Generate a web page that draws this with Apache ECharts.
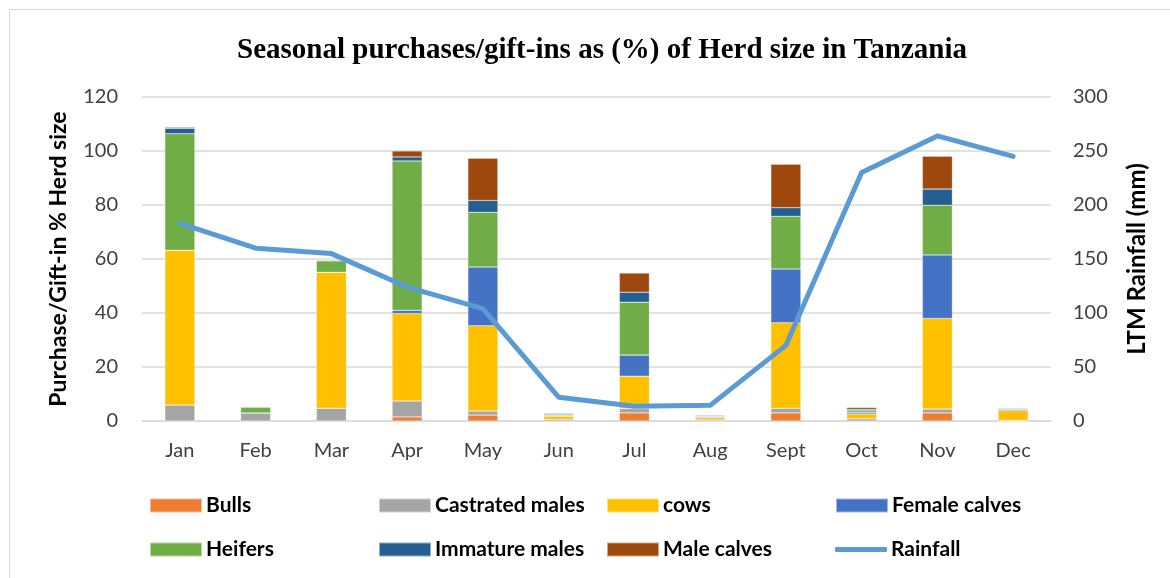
<!DOCTYPE html>
<html lang="en">
<head>
    <meta charset="UTF-8">
    <title>Seasonal purchases</title>
    <style>
        html, body {
            margin: 0;
            padding: 0;
            background: #fff;
        }

        #main {
            width: 1170px;
            height: 578px;
        }
    </style>
</head>
<body>
<div id="main"></div>
<script src="https://cdn.jsdelivr.net/npm/echarts@6/dist/echarts.min.js"></script>
<script>
    const months = ['Jan', 'Feb', 'Mar', 'Apr', 'May', 'Jun', 'Jul', 'Aug', 'Sept', 'Oct', 'Nov', 'Dec']
    const bulls = [0, 0, 0, 1.5, 2.2, 0, 3.0, 0, 3.0, 0, 3.0, 0]
    const castratedMales = [5.9, 3.0, 4.7, 5.9, 1.5, 0.6, 1.6, 0.4, 1.7, 0.8, 1.4, 0.2]
    const cows = [57.3, 0, 50.4, 32.4, 31.6, 1.2, 12.0, 0.8, 31.7, 1.8, 33.6, 3.6]
    const femaleCalves = [0, 0, 0, 1.2, 21.7, 0.2, 7.8, 0.3, 19.9, 0.6, 23.5, 0.4]
    const heifers = [43.2, 2.2, 4.2, 55.3, 20.3, 0.4, 19.6, 0.2, 19.5, 0.6, 18.4, 0.3]
    const immatureMales = [2.0, 0, 0.3, 1.5, 4.4, 0.3, 3.7, 0.4, 3.2, 0.5, 6.0, 0.3]
    const maleCalves = [0.4, 0, 0, 2.2, 15.6, 0.3, 7.1, 0.1, 16.1, 0.7, 12.2, 0.2]
    const rainfall = [183, 160, 155, 124, 104, 22, 13.6, 14.5, 70, 230, 264, 245]
    const leftTicks = [0, 120, 20]
    const rightTicks = [0, 300, 50]

    const font = 'Lato, "Noto Sans", sans-serif'

    function barSeries(name, data, color) {
        return {
            name: name,
            type: 'bar',
            stack: 'herd',
            barWidth: 30,
            data: data,
            itemStyle: {color: color, borderColor: 'rgba(255,255,255,0.5)', borderWidth: 0.5}
        }
    }

    // one legend per entry so the columns line up like the original
    function legendItem(name, left, top, isLine) {
        return {
            data: [{name: name, icon: isLine ? 'roundRect' : 'rect'}],
            left: left, top: top,
            itemWidth: 52, itemHeight: isLine ? 5 : 14, itemGap: 0,
            textStyle: {fontFamily: font, fontWeight: 'bold', fontSize: 21, color: '#000', padding: [0, 0, 0, -1]}
        }
    }

    const cols = [144, 373, 601, 830]
    const rowTop = [490, 534]

    let myChart = echarts.init(document.querySelector('#main'))
    let option = {
        animation: false,
        textStyle: {fontFamily: font},
        title: {
            text: 'Seasonal purchases/gift-ins as (%) of Herd size in Tanzania',
            left: 597,
            textAlign: 'center',
            top: 31,
            textStyle: {
                fontFamily: '"Liberation Serif", "Times New Roman", serif',
                fontWeight: 'bold',
                fontSize: 29,
                color: '#000'
            }
        },
        graphic: [{
            type: 'rect',
            shape: {x: 9.5, y: 9.5, width: 1170, height: 578},
            style: {fill: 'none', stroke: '#d9d9d9', lineWidth: 1}
        }],
        legend: [
            legendItem('Bulls', cols[0], rowTop[0]),
            legendItem('Castrated males', cols[1], rowTop[0]),
            legendItem('cows', cols[2], rowTop[0]),
            legendItem('Female calves', cols[3], rowTop[0]),
            legendItem('Heifers', cols[0], rowTop[1]),
            legendItem('Immature males', cols[1], rowTop[1]),
            legendItem('Male calves', cols[2], rowTop[1]),
            legendItem('Rainfall', cols[3], rowTop[1], true)
        ],
        grid: {left: 142, right: 119, top: 97, bottom: 157},
        xAxis: {
            type: 'category',
            data: months,
            axisLine: {lineStyle: {color: '#d9d9d9', width: 1.5}},
            axisTick: {show: false},
            axisLabel: {fontSize: 20, color: '#404040', margin: 20}
        },
        yAxis: [
            {
                type: 'value',
                min: leftTicks[0], max: leftTicks[1], interval: leftTicks[2],
                name: 'Purchase/Gift-in % Herd size',
                nameLocation: 'middle',
                nameRotate: 90,
                nameGap: 72,
                nameTextStyle: {fontSize: 23, fontWeight: 'bold', color: '#000'},
                axisLabel: {fontSize: 20, color: '#404040', margin: 24},
                splitLine: {lineStyle: {color: '#d9d9d9', width: 1.5}}
            },
            {
                type: 'value',
                min: rightTicks[0], max: rightTicks[1], interval: rightTicks[2],
                name: 'LTM Rainfall (mm)',
                nameLocation: 'middle',
                nameRotate: 90,
                nameGap: 74,
                nameTextStyle: {fontSize: 24, fontWeight: 'bold', color: '#000'},
                axisLabel: {fontSize: 20, color: '#404040', margin: 22},
                splitLine: {show: false}
            }
        ],
        series: [
            barSeries('Bulls', bulls, '#ED7D31'),
            barSeries('Castrated males', castratedMales, '#A5A5A5'),
            barSeries('cows', cows, '#FFC000'),
            barSeries('Female calves', femaleCalves, '#4472C4'),
            barSeries('Heifers', heifers, '#70AD47'),
            barSeries('Immature males', immatureMales, '#255E91'),
            barSeries('Male calves', maleCalves, '#9E480E'),
            {
                name: 'Rainfall',
                type: 'line',
                yAxisIndex: 1,
                data: rainfall,
                symbol: 'none',
                lineStyle: {color: '#5B9BD5', width: 5, cap: 'round', join: 'round'},
                itemStyle: {color: '#5B9BD5'}
            }
        ]
    }
    myChart.setOption(option)
</script>
</body>
</html>
